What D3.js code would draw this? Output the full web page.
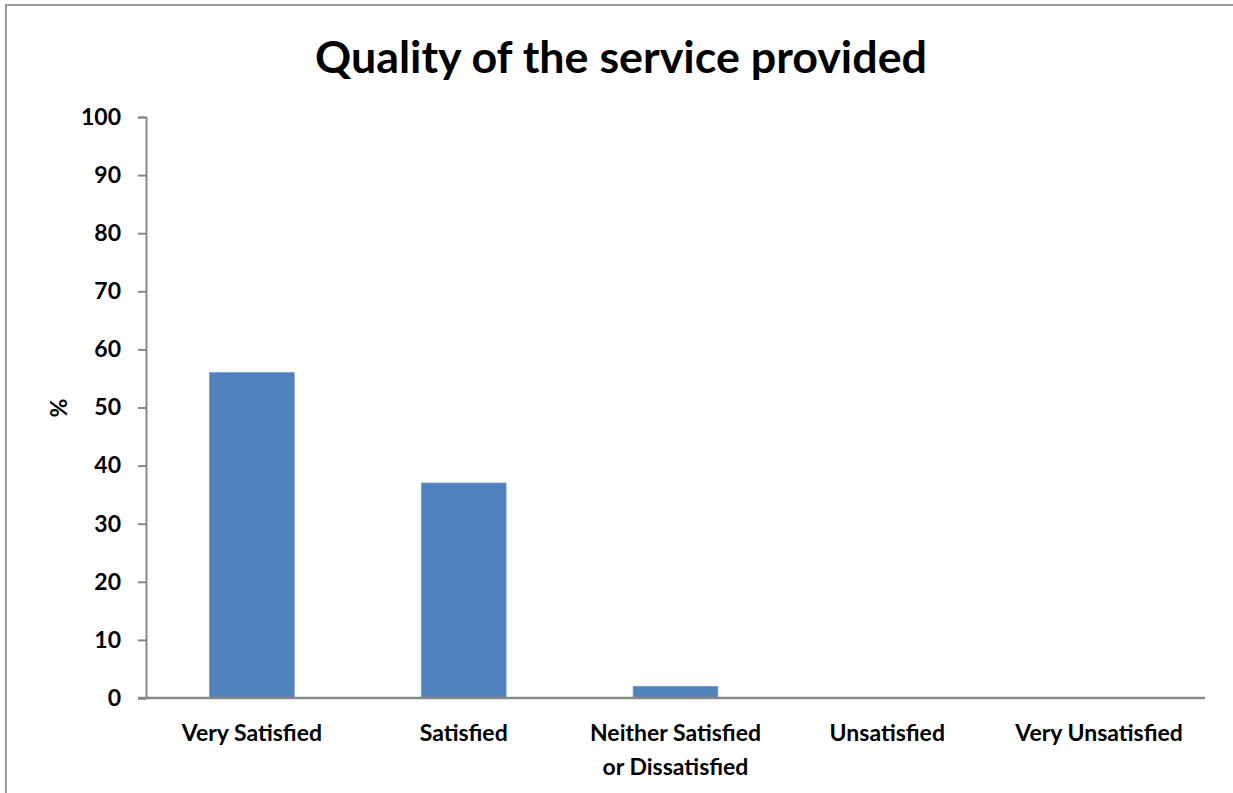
<!DOCTYPE html>
<html><head><meta charset="utf-8">
<script src="https://cdn.jsdelivr.net/npm/d3@7"></script>
<style>body{margin:0;background:#fff}svg{display:block}</style>
</head><body>
<script>
const categories = [["Very Satisfied"], ["Satisfied"], ["Neither Satisfied", "or Dissatisfied"], ["Unsatisfied"], ["Very Unsatisfied"]];
const values = [56, 37, 2, 0, 0];
const yTicks = [0, 10, 20, 30, 40, 50, 60, 70, 80, 90, 100];
const title = "Quality of the service provided";
const yLabel = "%";

const W = 1233, H = 793;
const font = "Lato, 'Open Sans', sans-serif";
const svg = d3.select("body").append("svg").attr("width", W).attr("height", H);

svg.append("rect").attr("x", 6).attr("y", 5).attr("width", W + 10).attr("height", H + 10)
  .attr("fill", "#fff").attr("stroke", "#999").attr("stroke-width", 2);

const x = d3.scaleBand().domain(categories.map((d, i) => i)).range([146, 1205]).paddingInner(0.6).paddingOuter(0.3);
const y = d3.scaleLinear().domain([0, 100]).range([698, 117]);

svg.append("text").attr("x", 621).attr("y", 73).attr("text-anchor", "middle")
  .attr("font-family", font).attr("font-weight", "bold").attr("font-size", 43)
  .attr("textLength", 612).attr("lengthAdjust", "spacingAndGlyphs").text(title);

// bars
svg.append("g").selectAll("rect").data(values).join("rect")
  .attr("x", (d, i) => x(i)).attr("width", x.bandwidth())
  .attr("y", d => y(d)).attr("height", d => y(0) - y(d))
  .attr("fill", "#4F81BD").attr("stroke", "#6f97cc").attr("stroke-width", 0.8);

// y axis
const yAxis = d3.axisLeft(y).tickValues(yTicks).tickSize(8).tickPadding(17).tickFormat(d3.format("d"));
const gy = svg.append("g").attr("transform", "translate(146,0)").call(yAxis);
gy.select(".domain").attr("stroke", "#888").attr("stroke-width", 2);
gy.selectAll(".tick line").attr("stroke", "#888").attr("stroke-width", 2);
gy.selectAll(".tick text").attr("font-family", font).attr("font-weight", "bold").attr("font-size", 23).attr("fill", "#000");

// x axis
svg.append("line").attr("x1", 138).attr("x2", 1205).attr("y1", y(0)).attr("y2", y(0))
  .attr("stroke", "#888").attr("stroke-width", 2.5);

const xl = svg.append("g").selectAll("text").data(categories).join("text")
  .attr("x", (d, i) => x(i) + x.bandwidth() / 2).attr("y", 741)
  .attr("text-anchor", "middle").attr("font-family", font).attr("font-weight", "bold").attr("font-size", 23).attr("fill", "#000");
xl.each(function(lines) {
  const t = d3.select(this);
  lines.forEach((l, j) => t.append("tspan").attr("x", t.attr("x")).attr("dy", j ? 34 : 0).text(l));
});

svg.append("text").attr("transform", "translate(67,408) rotate(-90)").attr("text-anchor", "middle")
  .attr("font-family", font).attr("font-weight", "bold").attr("font-size", 23).text(yLabel);
</script>
</body></html>
